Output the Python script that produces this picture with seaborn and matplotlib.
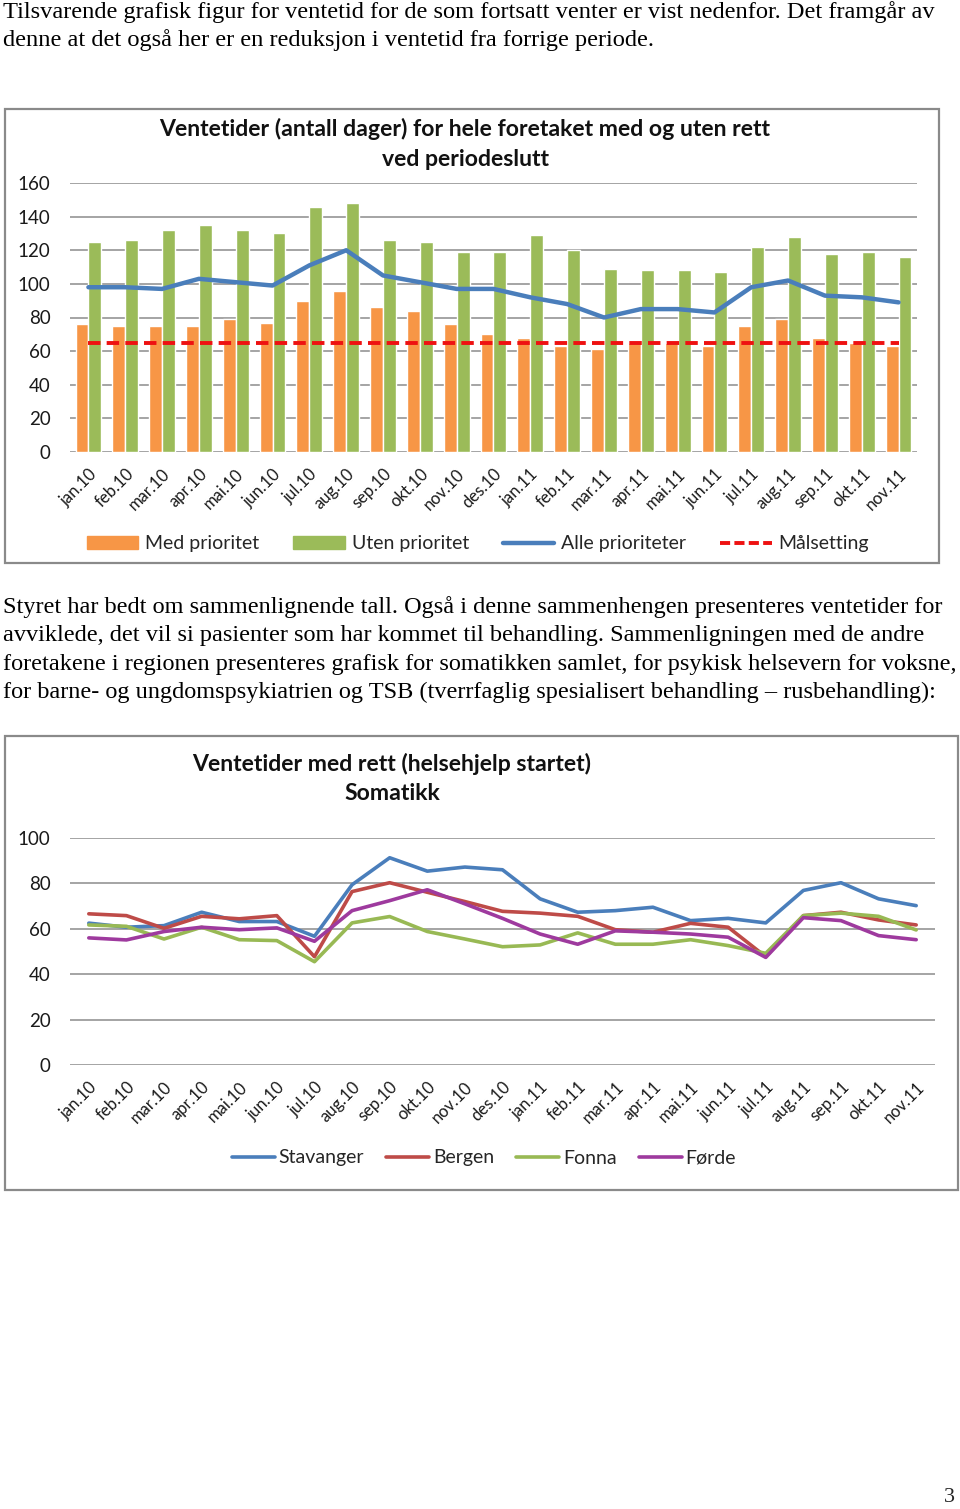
import numpy as np
import pandas as pd
import seaborn as sns
import matplotlib.pyplot as plt
from matplotlib.patches import Rectangle, Patch
from matplotlib.lines import Line2D

# data
months = ['jan.10', 'feb.10', 'mar.10', 'apr.10', 'mai.10', 'jun.10', 'jul.10', 'aug.10',
          'sep.10', 'okt.10', 'nov.10', 'des.10', 'jan.11', 'feb.11', 'mar.11', 'apr.11',
          'mai.11', 'jun.11', 'jul.11', 'aug.11', 'sep.11', 'okt.11', 'nov.11']

med_prioritet = [76, 75, 75, 75, 79, 77, 90, 96, 86, 84, 76, 70,
                 68, 63, 61, 65, 65, 63, 75, 79, 68, 65, 63]
uten_prioritet = [125, 126, 132, 135, 132, 130, 146, 148, 126, 125, 119, 119,
                  129, 120, 109, 108, 108, 107, 122, 128, 118, 119, 116]
alle_prioriteter = [98, 98, 97, 103, 101, 99, 111, 120, 105, 101, 97, 97,
                    92, 88, 80, 85, 85, 83, 98, 102, 93, 92, 89]
maalsetting = 65

stavanger = [62.5, 60.7, 61.4, 67.3, 63.2, 63.2, 56.7, 79.4, 91.3, 85.4, 87.2, 86,
             73.2, 67.3, 68, 69.5, 63.6, 64.6, 62.6, 76.9, 80.3, 73.2, 70.2]
bergen = [66.6, 65.8, 60.2, 65.5, 64.4, 65.8, 47.7, 76.4, 80.3, 76.1, 72, 67.7,
          66.9, 65.5, 59.6, 58.5, 62.4, 60.7, 47.7, 65.8, 67.3, 63.9, 61.7]
fonna = [61.7, 61.1, 55.5, 60.7, 55.2, 54.8, 45.5, 62.6, 65.4, 58.8, 55.5, 52.1,
         52.9, 58.2, 53.2, 53.2, 55.2, 52.6, 49.2, 65.8, 66.9, 65.5, 59.5]
forde = [56, 55.1, 58.8, 60.7, 59.6, 60.4, 54.5, 68, 72.4, 77.2, 71, 64.6,
         57.7, 53.2, 59.1, 58.5, 57.7, 56.3, 47.4, 64.9, 63.6, 57, 55.2]

text_top = ["Tilsvarende grafisk figur for ventetid for de som fortsatt venter er vist nedenfor. Det framgår av",
            "denne at det også her er en reduksjon i ventetid fra forrige periode."]
text_mid = ["Styret har bedt om sammenlignende tall. Også i denne sammenhengen presenteres ventetider for",
            "avviklede, det vil si pasienter som har kommet til behandling. Sammenligningen med de andre",
            "foretakene i regionen presenteres grafisk for somatikken samlet, for psykisk helsevern for voksne,",
            "for barne- og ungdomspsykiatrien og TSB (tverrfaglig spesialisert behandling – rusbehandling):"]

sns.set_theme(style='white')
plt.rcParams['font.family'] = ['Lato', 'DejaVu Sans']

W, H = 960, 1509
fig = plt.figure(figsize=(W / 100, H / 100), dpi=100)


def rect(x0, y0, x1, y1):
    return [x0 / W, 1 - y1 / H, (x1 - x0) / W, (y1 - y0) / H]


serif = ['Liberation Serif', 'DejaVu Serif']
for i, line in enumerate(text_top):
    fig.text(3 / W, 1 - (12 + 28 * i) / H, line, family=serif, fontsize=17.6, va='center', color='black')
for i, line in enumerate(text_mid):
    fig.text(3 / W, 1 - (607 + 28.5 * i) / H, line, family=serif, fontsize=17.5, va='center', color='black')
fig.text(955 / W, 1 - 1497 / H, '3', family=serif, fontsize=16, ha='right', va='center')

# chart frames
for (x0, y0, x1, y1) in [(5, 109, 939, 563), (5, 736, 958, 1190)]:
    fig.add_artist(Rectangle((x0 / W, 1 - y1 / H), (x1 - x0) / W, (y1 - y0) / H,
                             transform=fig.transFigure, fill=False, ec='#8a8a8a', lw=1.6))

grid_c = '#8c8c8c'


def style_axis(ax, ymax, step):
    ax.set_ylim(0, ymax)
    ax.set_xlim(-0.5, len(months) - 0.5)
    ax.set_yticks(np.arange(0, ymax + 1, step))
    ax.yaxis.grid(True, color=grid_c, lw=1.1)
    ax.xaxis.grid(False)
    for s in ax.spines.values():
        s.set_visible(False)
    ax.set_xlabel('')
    ax.set_ylabel('')
    ax.tick_params(axis='y', length=0, pad=14, labelsize=13.5, labelcolor='#1a1a1a')
    ax.set_xticks(range(len(months)))
    ax.set_xticklabels(months, rotation=45, ha='right', rotation_mode='anchor', fontsize=12, color='#1a1a1a')
    ax.tick_params(axis='x', length=0, pad=10)
    ax.set_facecolor('none')


# chart 1
ax1 = fig.add_axes(rect(70, 183, 917, 452))
df1 = pd.DataFrame({'month': months * 2,
                    'dager': med_prioritet + uten_prioritet,
                    'serie': ['Med prioritet'] * len(months) + ['Uten prioritet'] * len(months)})
sns.barplot(data=df1, x='month', y='dager', hue='serie', palette=['#F79646', '#9BBB59'],
            width=0.7, saturation=1, ax=ax1, legend=False)
xpos = np.arange(len(months))
sns.lineplot(x=xpos, y=alle_prioriteter, color='#4A7EBB', lw=3.2, ax=ax1)
sns.lineplot(x=xpos, y=[maalsetting] * len(months), color='#EE1111', lw=2.8, ax=ax1)
ax1.lines[-1].set_dashes((3.2, 1.6))
style_axis(ax1, 160, 20)
fig.text(465 / W, 1 - 129 / H, 'Ventetider (antall dager) for hele foretaket med og uten rett',
         ha='center', va='center', fontsize=16.6, fontweight='bold', color='#111111')
fig.text(465 / W, 1 - 159 / H, 'ved periodeslutt', ha='center', va='center', fontsize=16.6,
         fontweight='bold', color='#111111')

h1 = [Patch(color='#F79646'), Patch(color='#9BBB59'),
      Line2D([], [], color='#4A7EBB', lw=3.2),
      Line2D([], [], color='#EE1111', lw=2.8, dashes=(2.6, 1.1))]
fig.legend(h1, ['Med prioritet', 'Uten prioritet', 'Alle prioriteter', 'Målsetting'],
           loc='center', bbox_to_anchor=(478 / W, 1 - 544 / H), ncol=4, frameon=False,
           fontsize=14, handlelength=2.65, handleheight=0.6, handletextpad=0.35, columnspacing=1.75)

# chart 2
ax2 = fig.add_axes(rect(70, 838, 935, 1065))
df2 = pd.DataFrame({'pos': np.tile(xpos, 4),
                    'dager': stavanger + bergen + fonna + forde,
                    'foretak': np.repeat(['Stavanger', 'Bergen', 'Fonna', 'Førde'], len(months))})
pal2 = ['#4A7EBB', '#BE4B48', '#98B954', '#9E3A9E']
sns.lineplot(data=df2, x='pos', y='dager', hue='foretak', palette=pal2, lw=2.6, ax=ax2, legend=False)
style_axis(ax2, 100, 20)
fig.text(392 / W, 1 - 764 / H, 'Ventetider med rett (helsehjelp startet)',
         ha='center', va='center', fontsize=16.6, fontweight='bold', color='#111111')
fig.text(392 / W, 1 - 794 / H, 'Somatikk', ha='center', va='center', fontsize=16.6,
         fontweight='bold', color='#111111')

h2 = [Line2D([], [], color=c, lw=2.6) for c in pal2]
fig.legend(h2, ['Stavanger', 'Bergen', 'Fonna', 'Førde'],
           loc='center', bbox_to_anchor=(484 / W, 1 - 1158 / H), ncol=4, frameon=False,
           fontsize=14, handlelength=2.2, handletextpad=0.2, columnspacing=1.15)

fig.savefig('out.png', dpi=100, facecolor='white')
